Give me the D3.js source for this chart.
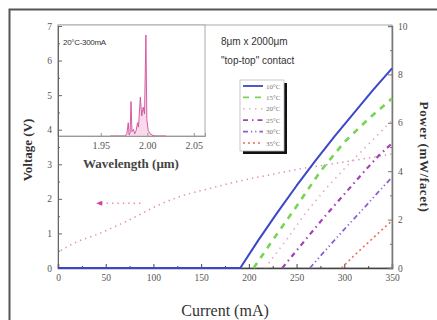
<!DOCTYPE html>
<html>
<head>
<meta charset="utf-8">
<script src="https://cdn.jsdelivr.net/npm/d3@7"></script>
<style>
  html, body { margin: 0; padding: 0; background: #fff; }
  svg { display: block; }
</style>
</head>
<body>
<svg id="chart" width="437" height="320"></svg>
<script>
// ---- data ----
const legendLabels = ["10°C", "15°C", "20°C", "25°C", "30°C", "35°C"];

// light output vs drive current, one pair of arrays per heat-sink temperature
const curI_10 = [0, 191, 210, 230, 250, 270, 290, 310, 330, 350];
const powP_10 = [0, 0, 1.15, 2.3, 3.4, 4.45, 5.45, 6.4, 7.35, 8.25];
const curI_15 = [205, 225, 250, 275, 300, 325, 350];
const powP_15 = [0, 1.15, 2.55, 4.0, 5.2, 6.15, 7.0];
const curI_20 = [217, 240, 260, 280, 300, 325, 350];
const powP_20 = [0, 1.2, 2.3, 3.25, 4.1, 5.1, 6.1];
const curI_25 = [235, 260, 280, 300, 320, 335, 350];
const powP_25 = [0, 1.2, 2.15, 3.05, 3.95, 4.6, 5.15];
const curI_30 = [264, 280, 300, 320, 337, 350];
const powP_30 = [0, 0.72, 1.6, 2.45, 3.2, 3.75];
const curI_35 = [297, 310, 325, 340, 350];
const powP_35 = [0, 0.5, 1.05, 1.6, 1.95];

// voltage vs current (left axis)
const voltI = [3, 10, 20, 37, 60, 79, 100, 121, 140, 159, 180, 201, 225, 246, 275, 300, 325, 350];
const voltV = [0.5, 0.62, 0.76, 0.93, 1.2, 1.45, 1.75, 2.0, 2.17, 2.3, 2.45, 2.58, 2.71, 2.83, 2.96, 3.07, 3.18, 3.3];

// pointer that ties the voltage curve to the left axis
const arrowI = [40, 90];
const arrowV = 1.87;

// emission spectrum at 20°C, 300 mA (inset)
const specWl  = [1.960, 1.976, 1.978, 1.9795, 1.9805, 1.9815, 1.9825, 1.9835, 1.985, 1.9865, 1.988, 1.9895, 1.9905, 1.9925, 1.994, 1.9955, 1.997, 1.9985, 1.9995, 2.001, 2.003, 2.005, 2.008, 2.020];
const specInt = [0, 0, 0.02, 0.12, 0.01, 0.03, 0.31, 0.04, 0.06, 0.02, 0.05, 0.12, 0.08, 0.35, 0.18, 0.26, 0.2, 0.91, 0.15, 0.05, 0.02, 0.01, 0, 0];

const currentTicks = [0, 50, 100, 150, 200, 250, 300, 350];
const voltTicks = [0, 1, 2, 3, 4, 5, 6, 7];
const powerTicks = [0, 2, 4, 6, 8, 10];
const wlTicks = [1.95, 2.00, 2.05];

// ---- layout ----
const svg = d3.select("#chart");
const L = 58, R = 392, T = 25, B = 268;
const serif = "'Liberation Serif', 'Times New Roman', serif";
const sans = "'Liberation Sans', Arial, sans-serif";

const x = d3.scaleLinear().domain([0, 350]).range([L, R]);
const yV = d3.scaleLinear().domain([0, 7]).range([B, T + 1]);
const yP = d3.scaleLinear().domain([0, 10]).range([B, T + 1]);

// outer frame (only top and left edges fall inside the view)
svg.append("path")
  .attr("d", `M9.5,320 V9.5 H437`)
  .attr("fill", "none").attr("stroke", "#555").attr("stroke-width", 2);

// plot frame
svg.append("rect").attr("x", L).attr("y", T).attr("width", R - L).attr("height", B - T)
  .attr("fill", "none").attr("stroke", "#aaa").attr("stroke-width", 1);

// ---- inset spectrum ----
const iR = 205, iB = 136;
const xw = d3.scaleLinear().domain([1.904, 2.062]).range([L, iR]);
const yw = d3.scaleLinear().domain([0, 1]).range([iB, T]);
svg.append("rect").attr("x", L).attr("y", T).attr("width", iR - L).attr("height", iB - T)
  .attr("fill", "#fff").attr("stroke", "#aaa").attr("stroke-width", 1);
const spec = specWl.map((w, i) => [w, specInt[i]]);
svg.append("path").datum(spec)
  .attr("d", d3.area().x(d => xw(d[0])).y0(iB).y1(d => yw(d[1])))
  .attr("fill", "#f2b6d6").attr("fill-opacity", 0.5);
svg.append("path").datum(spec)
  .attr("d", d3.line().x(d => xw(d[0])).y(d => yw(d[1])))
  .attr("fill", "none").attr("stroke", "#d24c9c").attr("stroke-width", 0.9);
const wAxis = svg.append("g").attr("transform", `translate(0,${iB})`)
  .call(d3.axisBottom(xw).tickValues(wlTicks).tickFormat(d3.format(".2f")).tickSize(-3).tickPadding(6));
wAxis.attr("font-family", null);
wAxis.select(".domain").attr("stroke", "#999");
wAxis.selectAll(".tick line").attr("stroke", "#999");
wAxis.selectAll("text").style("font-family", serif).style("font-size", "10px").attr("fill", "#555");
svg.append("text").attr("x", 131).attr("y", 168).attr("text-anchor", "middle")
  .style("font-family", serif).style("font-size", "13px").attr("font-weight", "bold").attr("fill", "#444")
  .text("Wavelength (μm)");
svg.append("text").attr("x", 63).attr("y", 45)
  .style("font-family", sans).style("font-size", "8px").attr("fill", "#333").attr("letter-spacing", -0.3)
  .text("20°C-300mA");

// ---- axes ----
function styleAxis(g, col) {
  g.attr("font-family", null);
  g.select(".domain").attr("stroke", col);
  g.selectAll(".tick line").attr("stroke", col);
  g.selectAll("text").style("font-family", serif).style("font-size", "9.5px").attr("fill", "#555");
}
const gx = svg.append("g").attr("transform", `translate(0,${B})`)
  .call(d3.axisBottom(x).tickValues(currentTicks).tickFormat(d3.format("d")).tickSize(-4).tickPadding(6));
styleAxis(gx, "#444");
gx.select(".domain").attr("stroke-width", 1.5);
svg.append("g").attr("transform", `translate(0,${B})`)
  .call(d3.axisBottom(x).tickValues(d3.range(25, 350, 50)).tickSize(-2).tickFormat(""))
  .call(g => { g.select(".domain").remove(); g.selectAll("line").attr("stroke", "#444"); });

const gl = svg.append("g").attr("transform", `translate(${L},0)`)
  .call(d3.axisLeft(yV).tickValues(voltTicks).tickFormat(d3.format("d")).tickSize(-4).tickPadding(6));
styleAxis(gl, "#666");
svg.append("g").attr("transform", `translate(${L},0)`)
  .call(d3.axisLeft(yV).tickValues(d3.range(0.5, 7, 1)).tickSize(-2).tickFormat(""))
  .call(g => { g.select(".domain").remove(); g.selectAll("line").attr("stroke", "#666"); });

const gr = svg.append("g").attr("transform", `translate(${R},0)`)
  .call(d3.axisRight(yP).tickValues(powerTicks).tickFormat(d3.format("d")).tickSize(-4).tickPadding(6));
styleAxis(gr, "#777");
gr.select(".domain").attr("stroke-width", 1.5);
svg.append("g").attr("transform", `translate(${R},0)`)
  .call(d3.axisRight(yP).tickValues(d3.range(1, 10, 2)).tickSize(-2).tickFormat(""))
  .call(g => { g.select(".domain").remove(); g.selectAll("line").attr("stroke", "#777"); });

// axis titles
svg.append("text").attr("x", 225).attr("y", 316).attr("text-anchor", "middle")
  .style("font-family", serif).style("font-size", "16px").attr("fill", "#333").text("Current (mA)");
svg.append("text").attr("transform", "translate(32,150) rotate(-90)").attr("text-anchor", "middle")
  .style("font-family", serif).style("font-size", "13px").attr("font-weight", "bold").attr("fill", "#333")
  .text("Voltage (V)");
svg.append("text").attr("transform", "translate(420,157) rotate(90)").attr("text-anchor", "middle")
  .style("font-family", serif).style("font-size", "13px").attr("font-weight", "bold").attr("fill", "#333")
  .attr("letter-spacing", 0.6).text("Power (mW/facet)");

// ---- voltage curve ----
const vLine = d3.line().x(d => x(d[0])).y(d => yV(d[1])).curve(d3.curveMonotoneX);
svg.append("path").datum(voltI.map((c, i) => [c, voltV[i]]))
  .attr("d", vLine).attr("fill", "none").attr("stroke", "#e68cb8")
  .attr("stroke-width", 1.5).attr("stroke-dasharray", "1.4,4");
// pointer toward the left axis
svg.append("line").attr("x1", x(arrowI[0]) + 5).attr("x2", x(arrowI[1])).attr("y1", yV(arrowV)).attr("y2", yV(arrowV))
  .attr("stroke", "#e68cb8").attr("stroke-width", 1.5).attr("stroke-dasharray", "1.4,4");
svg.append("path")
  .attr("d", `M${x(arrowI[0])},${yV(arrowV)} l6,-2.5 v5 z`)
  .attr("fill", "#d6409a");

// ---- light-current curves ----
const pLine = d3.line().x(d => x(d[0])).y(d => yP(d[1]));
const series = [
  { I: curI_10, P: powP_10, color: "#3c46c8", w: 2.0, dash: null },
  { I: curI_15, P: powP_15, color: "#78d455", w: 2.6, dash: "6,6" },
  { I: curI_20, P: powP_20, color: "#eaa6cc", w: 1.6, dash: "1.5,4.5" },
  { I: curI_25, P: powP_25, color: "#a242b6", w: 2.2, dash: "5,4,1.5,4" },
  { I: curI_30, P: powP_30, color: "#8e5ed4", w: 1.8, dash: "5,3,1.2,3,1.2,3" },
  { I: curI_35, P: powP_35, color: "#f06a5a", w: 1.6, dash: "2,3" }
];
series.forEach(s => {
  svg.append("path").datum(s.I.map((c, i) => [c, s.P[i]]))
    .attr("d", pLine).attr("fill", "none").attr("stroke", s.color)
    .attr("stroke-width", s.w).attr("stroke-dasharray", s.dash)
    .attr("stroke-linejoin", "round");
});

// ---- annotations ----
svg.append("text").attr("x", 221).attr("y", 45)
  .style("font-family", sans).style("font-size", "10px").attr("fill", "#333").text("8μm x 2000μm");
svg.append("text").attr("x", 221).attr("y", 64)
  .style("font-family", sans).style("font-size", "10px").attr("fill", "#333").text("\"top-top\" contact");

// ---- legend ----
const lg = svg.append("g").attr("transform", "translate(240,80)");
lg.append("rect").attr("x", 3).attr("y", 3).attr("width", 44).attr("height", 71).attr("fill", "#111");
lg.append("rect").attr("x", 0).attr("y", 0).attr("width", 44).attr("height", 71)
  .attr("fill", "#fff").attr("stroke", "#bbb").attr("stroke-width", 0.8);
series.forEach((s, i) => {
  const yy = 6 + i * 11.4;
  lg.append("line").attr("x1", 3).attr("x2", 23).attr("y1", yy).attr("y2", yy)
    .attr("stroke", s.color).attr("stroke-width", Math.min(s.w, 1.8)).attr("stroke-dasharray", s.dash);
  lg.append("text").attr("x", 26).attr("y", yy + 2.5)
    .style("font-family", serif).style("font-size", "7px").attr("fill", "#777").text(legendLabels[i]);
});
</script>
</body>
</html>
